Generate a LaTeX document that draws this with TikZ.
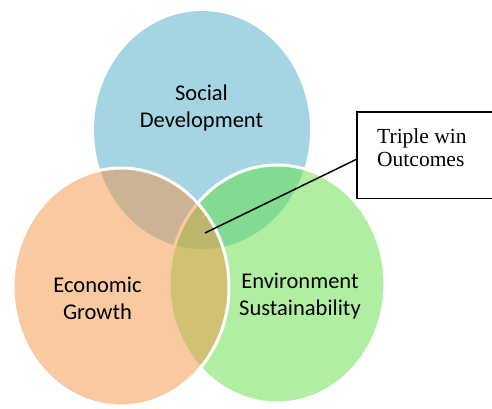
\documentclass[tikz,border=0pt]{standalone}
\usepackage{fontspec}
\setmainfont{Liberation Serif}
\newfontfamily\calibri{Carlito}
\usetikzlibrary{shapes.geometric,positioning}
\definecolor{socblue}{RGB}{165,213,226}
\definecolor{ecoorange}{RGB}{243,147,69}
\definecolor{envgreen}{RGB}{97,223,69}

\begin{document}
\begin{tikzpicture}[x=1pt,y=-1pt,
   disc/.style={ellipse,inner sep=0pt,minimum width=216pt,minimum height=238pt},
   ring/.style={disc,draw=white,line width=3pt,fill opacity=0.5},
   lbl/.style={font=\calibri\fontsize{22.5}{27.5}\selectfont,align=center,inner sep=0pt},
   outbox/.style={fill=white,minimum width=150pt,minimum height=86pt,inner sep=0pt}]
  \useasboundingbox (0,0) rectangle (492,408);
  \clip (0,0) rectangle (492,408);
  % the three circles, orange last so it sits on top
  \node[disc,fill=socblue]   (soc) at (202,130) {};
  \node[ring,fill=envgreen]  (env) at (277,284) {};
  \node[ring,fill=ecoorange] (eco) at (121,287) {};
  \node[lbl] (soclbl) at (201.5,108) {Social\\Development};
  \node[lbl] (ecolbl) at (97.5,298.5) {Economic\\Growth};
  \node[lbl] (envlbl) at (300,296) {Environment\\Sustainability};
  % callout, running off the right edge
  \coordinate (win) at (205,233);
  \node[outbox,anchor=north west] (box) at (357,112) {};
  \draw[line width=1.5pt] (box.north east) -- (box.north west)
       -- (box.south west) -- (box.south east);
  \node[anchor=north west,align=left,inner sep=0pt,
        font=\fontsize{21.5}{23}\selectfont] (boxtext) at (377,128) {Triple win\\Outcomes};
  \draw[line width=1.5pt] (win) -- (box.west |- 0,159);
\end{tikzpicture}
\end{document}
